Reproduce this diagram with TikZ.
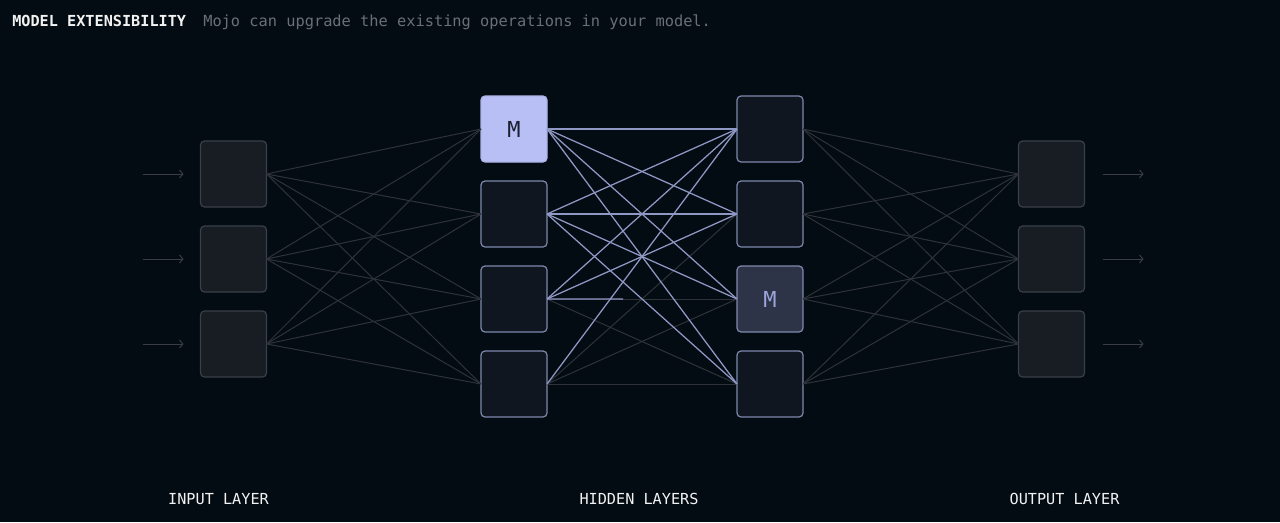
\documentclass[tikz,border=0pt]{standalone}
\usepackage{fontspec}
\newfontfamily\monoFont{DejaVu Sans Mono}
\usetikzlibrary{positioning, arrows.meta, calc}

\definecolor{bgColor}{HTML}{030B13}
\definecolor{plainFill}{HTML}{181C23}
\definecolor{plainEdge}{HTML}{3B4048}
\definecolor{hiddenFill}{HTML}{0F1620}
\definecolor{hiddenEdge}{HTML}{7F89AD}
\definecolor{modFill}{HTML}{B8BFF5}
\definecolor{modText}{HTML}{1B2030}
\definecolor{modDarkFill}{HTML}{2D3447}
\definecolor{modDarkText}{HTML}{9BA5DA}
\definecolor{brightWire}{HTML}{8F98C4}
\definecolor{dimWire}{HTML}{2F3339}
\definecolor{arrowGrey}{HTML}{3A3E44}
\definecolor{titleWhite}{HTML}{F2F2F2}
\definecolor{noteGrey}{HTML}{6B7076}

\begin{document}
\begin{tikzpicture}[x=0.75pt, y=-0.75pt, node distance=14.25pt,
    plainBox/.style={draw=plainEdge, fill=plainFill, line width=0.9pt, rounded corners=3pt, minimum size=49.5pt, inner sep=0pt, outer sep=0pt},
    hiddenBox/.style={draw=hiddenEdge, fill=hiddenFill, line width=0.9pt, rounded corners=3pt, minimum size=49.5pt, inner sep=0pt, outer sep=0pt},
    modBox/.style={hiddenBox, fill=modFill, draw=modFill!80!hiddenEdge, text=modText, font=\monoFont\fontsize{16.5}{16.5}\selectfont},
    modDarkBox/.style={hiddenBox, fill=modDarkFill, text=modDarkText, font=\monoFont\fontsize{16.5}{16.5}\selectfont},
    dimLine/.style={draw=dimWire, line width=0.75pt},
    brightLine/.style={draw=brightWire, line width=0.95pt},
    flowArrow/.style={draw=arrowGrey, line width=0.75pt, -{Straight Barb[length=2.5pt, width=6pt]}},
    layerLabel/.style={anchor=base, inner sep=0pt, text=titleWhite, font=\monoFont\fontsize{11.4}{11.4}\selectfont}]

    \fill[bgColor] (0,0) rectangle (1280,522);

    \node[anchor=base west, inner sep=0pt, text=titleWhite, font=\monoFont\bfseries\fontsize{11.4}{11.4}\selectfont] (title) at (12,26) {MODEL EXTENSIBILITY};
    \node[anchor=base west, inner sep=0pt, text=noteGrey, font=\monoFont\fontsize{11.5}{11.5}\selectfont] (subtitle) at (203,26) {Mojo can upgrade the existing operations in your model.};

    % input layer
    \node[plainBox] (in1) at (233.5,174) {};
    \node[plainBox, below = of in1] (in2) {};
    \node[plainBox, below = of in2] (in3) {};

    % hidden layers
    \node[modBox] (hidA1) at (514,129) {M};
    \node[hiddenBox, below = of hidA1] (hidA2) {};
    \node[hiddenBox, below = of hidA2] (hidA3) {};
    \node[hiddenBox, below = of hidA3] (hidA4) {};
    \node[hiddenBox, right = 142.5pt of hidA1] (hidB1) {};
    \node[hiddenBox, below = of hidB1] (hidB2) {};
    \node[modDarkBox, below = of hidB2] (hidB3) {M};
    \node[hiddenBox, below = of hidB3] (hidB4) {};

    % output layer
    \node[plainBox] (out1) at (1051.5,174) {};
    \node[plainBox, below = of out1] (out2) {};
    \node[plainBox, below = of out2] (out3) {};

    \foreach \i in {1,2,3} {
        \foreach \j in {1,...,4} {
            \draw[dimLine] (in\i.east) -- (hidA\j.west);
            \draw[dimLine] (hidB\j.east) -- (out\i.west);
        }
        \draw[flowArrow] ([xshift=-43.5pt]in\i.west) -- ([xshift=-12.75pt]in\i.west);
        \draw[flowArrow] ([xshift=13.5pt]out\i.east) -- ([xshift=44.25pt]out\i.east);
    }

    \foreach \i/\j in {3/3,3/4,4/2,4/3,4/4}
        \draw[dimLine] (hidA\i.east) -- (hidB\j.west);
    \foreach \i/\j in {1/1,1/2,1/3,1/4,2/1,2/2,2/3,2/4,3/1,3/2,4/1}
        \draw[brightLine] (hidA\i.east) -- (hidB\j.west);
    \draw[brightLine] (hidA3.east) -- ($(hidA3.east)!0.4!(hidB3.west)$);

    \node[layerLabel] (inputLabel) at (218.5,504) {INPUT LAYER};
    \node[layerLabel] (hiddenLabel) at (639,504) {HIDDEN LAYERS};
    \node[layerLabel] (outputLabel) at (1064.5,504) {OUTPUT LAYER};
\end{tikzpicture}
\end{document}
